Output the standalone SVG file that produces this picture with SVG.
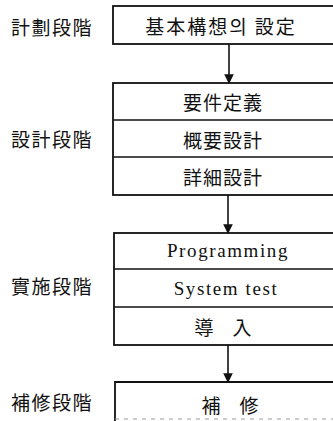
<svg xmlns="http://www.w3.org/2000/svg" width="333" height="421" viewBox="0 0 333 421">
<style>
.bx{fill:none;stroke:#111;stroke-width:1.8}
.dv{stroke:#111;stroke-width:1.6}
.lbl{font-family:"Noto Sans CJK KR","Noto Sans CJK TC",sans-serif;font-size:19px;fill:#111;text-anchor:end;dominant-baseline:central;letter-spacing:1.5px}
.t{font-family:"Noto Sans CJK KR","Noto Sans CJK TC",sans-serif;font-size:19px;fill:#111;text-anchor:middle;dominant-baseline:central}
.e{font-family:"Liberation Serif",serif;font-size:19px;fill:#111;text-anchor:middle;dominant-baseline:central;letter-spacing:1.6px}
.ar{stroke:#111;stroke-width:1.6;fill:none}
</style>
<defs>
<marker id="ah" viewBox="0 0 10 10" refX="9" refY="5" markerWidth="6" markerHeight="6" orient="auto" markerUnits="strokeWidth">
<path d="M0,0 L10,5 L0,10 Z" fill="#111"/>
</marker>
</defs>
<g id="stage-labels">
<text class="lbl" x="93" y="26">計劃段階</text>
<text class="lbl" x="93" y="138">設計段階</text>
<text class="lbl" x="93" y="285">實施段階</text>
<text class="lbl" x="93" y="401">補修段階</text>
</g>
<g id="planning">
<rect class="bx" x="113" y="6" width="230" height="38"/>
<text class="t" x="221" y="25" letter-spacing="2">基本構想의 設定</text>
</g>
<g id="design">
<rect class="bx" x="113" y="83" width="230" height="112"/>
<line class="dv" x1="113" y1="120" x2="343" y2="120"/>
<line class="dv" x1="113" y1="157" x2="343" y2="157"/>
<text class="t" x="223" y="101" letter-spacing="1">要件定義</text>
<text class="t" x="223" y="139" letter-spacing="1">概要設計</text>
<text class="t" x="223" y="176" letter-spacing="1">詳細設計</text>
</g>
<g id="implementation">
<rect class="bx" x="114" y="233" width="230" height="112"/>
<line class="dv" x1="114" y1="269" x2="344" y2="269"/>
<line class="dv" x1="114" y1="307" x2="344" y2="307"/>
<text class="e" x="228" y="250">Programming</text>
<text class="e" x="226" y="288">System test</text>
<text class="t" x="223" y="326" font-size="17">導　入</text>
</g>
<g id="maintenance">
<path class="bx" d="M115,421 L115,382 L344,382"/>
<line x1="115" y1="419" x2="333" y2="419" stroke="#999" stroke-width="1" stroke-dasharray="4 5"/>
<text class="t" x="230" y="404">補　修</text>
</g>
<g id="connectors">
<line class="ar" x1="229" y1="44" x2="229" y2="83" marker-end="url(#ah)"/>
<line class="ar" x1="228" y1="195" x2="228" y2="233" marker-end="url(#ah)"/>
<line class="ar" x1="228" y1="345" x2="228" y2="382" marker-end="url(#ah)"/>
</g>
</svg>
